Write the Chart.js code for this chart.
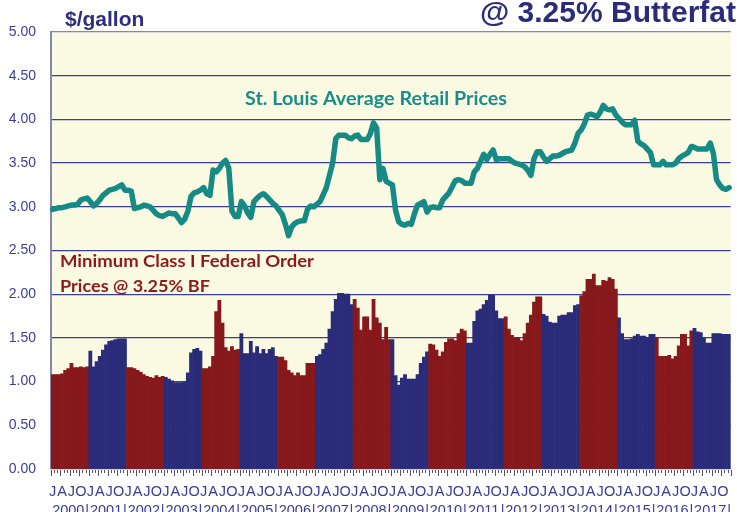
<!DOCTYPE html>
<html>
<head>
<meta charset="utf-8">
<script src="https://cdn.jsdelivr.net/npm/chart.js@4.4.0/dist/chart.umd.min.js"></script>
<style>
  html, body { margin: 0; padding: 0; background: #fff; overflow: hidden; }
  #wrap { position: absolute; left: 0; top: 0; width: 745px; height: 512px; }
</style>
</head>
<body>
<div id="wrap"><canvas id="milkChart"></canvas></div>
<script>
// 데이터 (월별, 2000.01 ~ 2017.12)
const years = [2000, 2001, 2002, 2003, 2004, 2005, 2006, 2007, 2008,
               2009, 2010, 2011, 2012, 2013, 2014, 2015, 2016, 2017];
const monthLetters = ['J', 'F', 'M', 'A', 'M', 'J', 'J', 'A', 'S', 'O', 'N', 'D'];
const yTicks = [0, 0.5, 1, 1.5, 2, 2.5, 3, 3.5, 4, 4.5, 5];

// St. Louis average retail prices ($/gallon)
const retailPrices = [
  2.97, 2.98, 2.99, 2.99, 3.00, 3.01, 3.02, 3.02, 3.03, 3.08, 3.09, 3.10, // 2000
  3.06, 3.01, 3.04, 3.08, 3.13, 3.16, 3.19, 3.20, 3.21, 3.23, 3.25, 3.19, // 2001
  3.19, 3.18, 2.98, 2.99, 3.00, 3.02, 3.01, 3.00, 2.96, 2.92, 2.90, 2.89, // 2002
  2.91, 2.93, 2.92, 2.92, 2.87, 2.82, 2.86, 2.95, 3.12, 3.16, 3.17, 3.19, // 2003
  3.22, 3.15, 3.13, 3.42, 3.40, 3.44, 3.50, 3.53, 3.44, 2.95, 2.89, 2.89, // 2004
  3.06, 3.01, 2.93, 2.88, 3.06, 3.10, 3.13, 3.15, 3.12, 3.08, 3.04, 3.01, // 2005
  2.96, 2.91, 2.80, 2.67, 2.77, 2.81, 2.83, 2.84, 2.84, 2.97, 3.01, 3.00, // 2006
  3.03, 3.06, 3.14, 3.22, 3.36, 3.50, 3.78, 3.82, 3.82, 3.82, 3.79, 3.78, // 2007
  3.81, 3.82, 3.77, 3.77, 3.77, 3.84, 3.96, 3.90, 3.31, 3.44, 3.29, 3.27, // 2008
  3.25, 2.96, 2.83, 2.80, 2.79, 2.81, 2.80, 2.92, 3.02, 3.04, 3.06, 2.94, // 2009
  2.99, 3.00, 2.99, 2.99, 3.08, 3.12, 3.16, 3.23, 3.30, 3.31, 3.30, 3.27, // 2010
  3.27, 3.27, 3.40, 3.44, 3.52, 3.60, 3.54, 3.60, 3.65, 3.54, 3.55, 3.55, // 2011
  3.55, 3.55, 3.52, 3.50, 3.49, 3.48, 3.46, 3.42, 3.36, 3.55, 3.63, 3.63, // 2012
  3.57, 3.52, 3.55, 3.58, 3.58, 3.59, 3.61, 3.63, 3.64, 3.65, 3.73, 3.84, // 2013
  3.88, 3.95, 4.05, 4.06, 4.05, 4.03, 4.08, 4.16, 4.12, 4.11, 4.12, 4.05, // 2014
  4.01, 3.97, 3.94, 3.94, 3.94, 3.99, 3.75, 3.72, 3.70, 3.66, 3.62, 3.48, // 2015
  3.48, 3.48, 3.52, 3.48, 3.48, 3.48, 3.50, 3.55, 3.58, 3.60, 3.62, 3.69, // 2016
  3.68, 3.66, 3.66, 3.66, 3.66, 3.73, 3.61, 3.31, 3.25, 3.21, 3.20, 3.22  // 2017
];

// Minimum Class I Federal Order prices @ 3.25% BF ($/gallon)
const classIPrices = [
  1.08, 1.08, 1.08, 1.09, 1.13, 1.15, 1.21, 1.16, 1.16, 1.17, 1.16, 1.17, // 2000
  1.35, 1.17, 1.23, 1.29, 1.36, 1.42, 1.46, 1.47, 1.48, 1.49, 1.49, 1.49, // 2001
  1.16, 1.16, 1.15, 1.13, 1.11, 1.08, 1.06, 1.05, 1.04, 1.07, 1.05, 1.06, // 2002
  1.05, 1.03, 1.01, 0.99, 0.99, 0.99, 1.00, 1.10, 1.33, 1.37, 1.38, 1.35, // 2003
  1.15, 1.15, 1.17, 1.29, 1.80, 1.93, 1.67, 1.39, 1.35, 1.40, 1.36, 1.37, // 2004
  1.55, 1.32, 1.32, 1.46, 1.33, 1.40, 1.32, 1.37, 1.32, 1.37, 1.39, 1.29, // 2005
  1.28, 1.28, 1.24, 1.13, 1.10, 1.07, 1.10, 1.07, 1.07, 1.21, 1.21, 1.21, // 2006
  1.29, 1.31, 1.37, 1.44, 1.60, 1.80, 1.94, 2.01, 2.01, 2.00, 2.00, 1.88, // 2007
  1.94, 1.84, 1.59, 1.74, 1.74, 1.59, 1.94, 1.73, 1.67, 1.48, 1.62, 1.48, // 2008
  1.48, 1.07, 0.96, 1.04, 1.08, 1.03, 1.03, 1.03, 1.08, 1.21, 1.28, 1.34, // 2009
  1.43, 1.42, 1.36, 1.29, 1.34, 1.45, 1.49, 1.49, 1.47, 1.55, 1.60, 1.58, // 2010
  1.44, 1.44, 1.69, 1.81, 1.83, 1.88, 1.93, 1.99, 1.99, 1.81, 1.72, 1.72, // 2011
  1.74, 1.60, 1.53, 1.50, 1.50, 1.47, 1.55, 1.67, 1.76, 1.91, 1.97, 1.97, // 2012
  1.77, 1.75, 1.68, 1.67, 1.67, 1.75, 1.76, 1.76, 1.79, 1.79, 1.87, 1.88, // 2013
  1.98, 2.03, 2.17, 2.17, 2.23, 2.10, 2.10, 2.16, 2.15, 2.19, 2.17, 2.06, // 2014
  1.73, 1.55, 1.48, 1.48, 1.49, 1.52, 1.54, 1.52, 1.52, 1.50, 1.54, 1.54, // 2015
  1.50, 1.29, 1.29, 1.29, 1.30, 1.26, 1.29, 1.41, 1.54, 1.54, 1.41, 1.58, // 2016
  1.61, 1.57, 1.56, 1.50, 1.44, 1.44, 1.55, 1.55, 1.55, 1.54, 1.54, 1.54  // 2017
];

const monthLabels = [];
years.forEach(y => monthLetters.forEach((m, i) => monthLabels.push(y + '-' + (i + 1))));

// 연도별 막대 색 (짝수 연도 빨강, 홀수 연도 파랑)
const barColors = monthLabels.map((_, i) => (years[Math.floor(i / 12)] % 2 === 0) ? '#87181B' : '#2A2C7A');

// 플롯 배경
const plotBackground = {
    id: 'plotBackground',
    beforeDraw(chart) {
        const { ctx, chartArea: a } = chart;
        ctx.save();
        ctx.fillStyle = '#FAF9E2';
        ctx.fillRect(a.left, a.top, a.right - a.left, a.bottom - a.top);
        ctx.restore();
    }
};

// 글자 폭을 원본에 맞춰 가로로 늘려 그림
function drawFitted(ctx, text, x, y, width) {
    const w = ctx.measureText(text).width;
    ctx.save();
    ctx.translate(x, y);
    ctx.scale(width / w, 1);
    ctx.fillText(text, 0, 0);
    ctx.restore();
}

// 월 눈금 + 글자
const extras = {
    id: 'extras',
    afterDraw(chart) {
        const { ctx, chartArea: a } = chart;
        const xs = chart.scales.x;
        const step = xs.getPixelForValue(1) - xs.getPixelForValue(0);
        ctx.save();
        ctx.strokeStyle = '#555555';
        ctx.lineWidth = 1;
        ctx.beginPath();
        for (let i = 0; i <= monthLabels.length; i++) {
            const px = Math.round(xs.getPixelForValue(0) - step / 2 + i * step) + 0.5;
            ctx.moveTo(px, a.bottom + 1);
            ctx.lineTo(px, a.bottom + (i % 3 === 0 ? 7 : 4));
        }
        ctx.stroke();

        ctx.textBaseline = 'alphabetic';
        ctx.textAlign = 'left';
        ctx.fillStyle = '#2E2E7E';
        ctx.font = 'bold 21px "Liberation Sans", Arial, sans-serif';
        ctx.fillText('$/gallon', 65, 26);
        ctx.fillStyle = '#2B2B7A';
        ctx.font = 'bold 30px "Liberation Sans", Arial, sans-serif';
        ctx.fillText('@ 3.25% Butterfat', 480, 22);

        ctx.font = 'bold 18.5px Lato, "Open Sans", sans-serif';
        ctx.fillStyle = '#1B8D88';
        drawFitted(ctx, 'St. Louis Average Retail Prices', 245, 105, 262);
        ctx.font = 'bold 17px Lato, "Open Sans", sans-serif';
        ctx.fillStyle = '#8B1A1D';
        drawFitted(ctx, 'Minimum Class I Federal Order', 60, 267, 254);
        drawFitted(ctx, 'Prices @ 3.25% BF', 60, 292, 150);
        ctx.restore();
    }
};

new Chart(document.getElementById('milkChart'), {
    type: 'bar',
    data: {
        labels: monthLabels,
        datasets: [
            {
                type: 'line',
                label: 'St. Louis Average Retail Prices',
                data: retailPrices,
                borderColor: '#168A85',
                borderWidth: 5.5,
                pointRadius: 0,
                tension: 0,
                borderJoinStyle: 'round',
                borderCapStyle: 'round',
                order: 0
            },
            {
                label: 'Minimum Class I Federal Order Prices @ 3.25% BF',
                data: classIPrices,
                backgroundColor: barColors,
                borderWidth: 0,
                barPercentage: 1,
                categoryPercentage: 1,
                order: 1
            }
        ]
    },
    options: {
        responsive: true,
        maintainAspectRatio: false,
        animation: false,
        layout: { padding: { left: 0, right: 5, top: 32, bottom: 0 } },
        plugins: {
            legend: { display: false },
            tooltip: { enabled: false }
        },
        scales: {
            x: {
                grid: { display: false, drawTicks: false },
                border: { display: false },
                ticks: {
                    autoSkip: false,
                    maxRotation: 0,
                    minRotation: 0,
                    padding: 14,
                    color: '#3A3A92',
                    font: { family: '"Liberation Sans", Arial, sans-serif', size: 14.5, lineHeight: 1.3 },
                    callback: function (value, index) {
                        const m = index % 12;
                        const y = years[Math.floor(index / 12)];
                        if (m === 5) return ['', String(y)];
                        if (m === 11) return ['', '|'];
                        if (m % 3 === 0) return monthLetters[m];
                        return '';
                    }
                },
                afterFit(scale) { scale.height = 43; }
            },
            y: {
                min: 0,
                max: 5,
                afterBuildTicks(scale) { scale.ticks = yTicks.map(v => ({ value: v })); },
                grid: {
                    drawTicks: false,
                    color: ctx => ctx.tick && ctx.tick.value === 5 ? '#8686B6' : '#3E3E8E',
                    lineWidth: 1.3
                },
                border: { display: true, color: '#8686B6', width: 2 },
                ticks: {
                    padding: 15,
                    color: '#3D3D95',
                    font: { family: '"Liberation Sans", Arial, sans-serif', size: 14 },
                    callback: v => Number(v).toFixed(2)
                },
                afterFit(scale) { scale.width = 51; }
            }
        }
    },
    plugins: [plotBackground, extras]
});
</script>
</body>
</html>
